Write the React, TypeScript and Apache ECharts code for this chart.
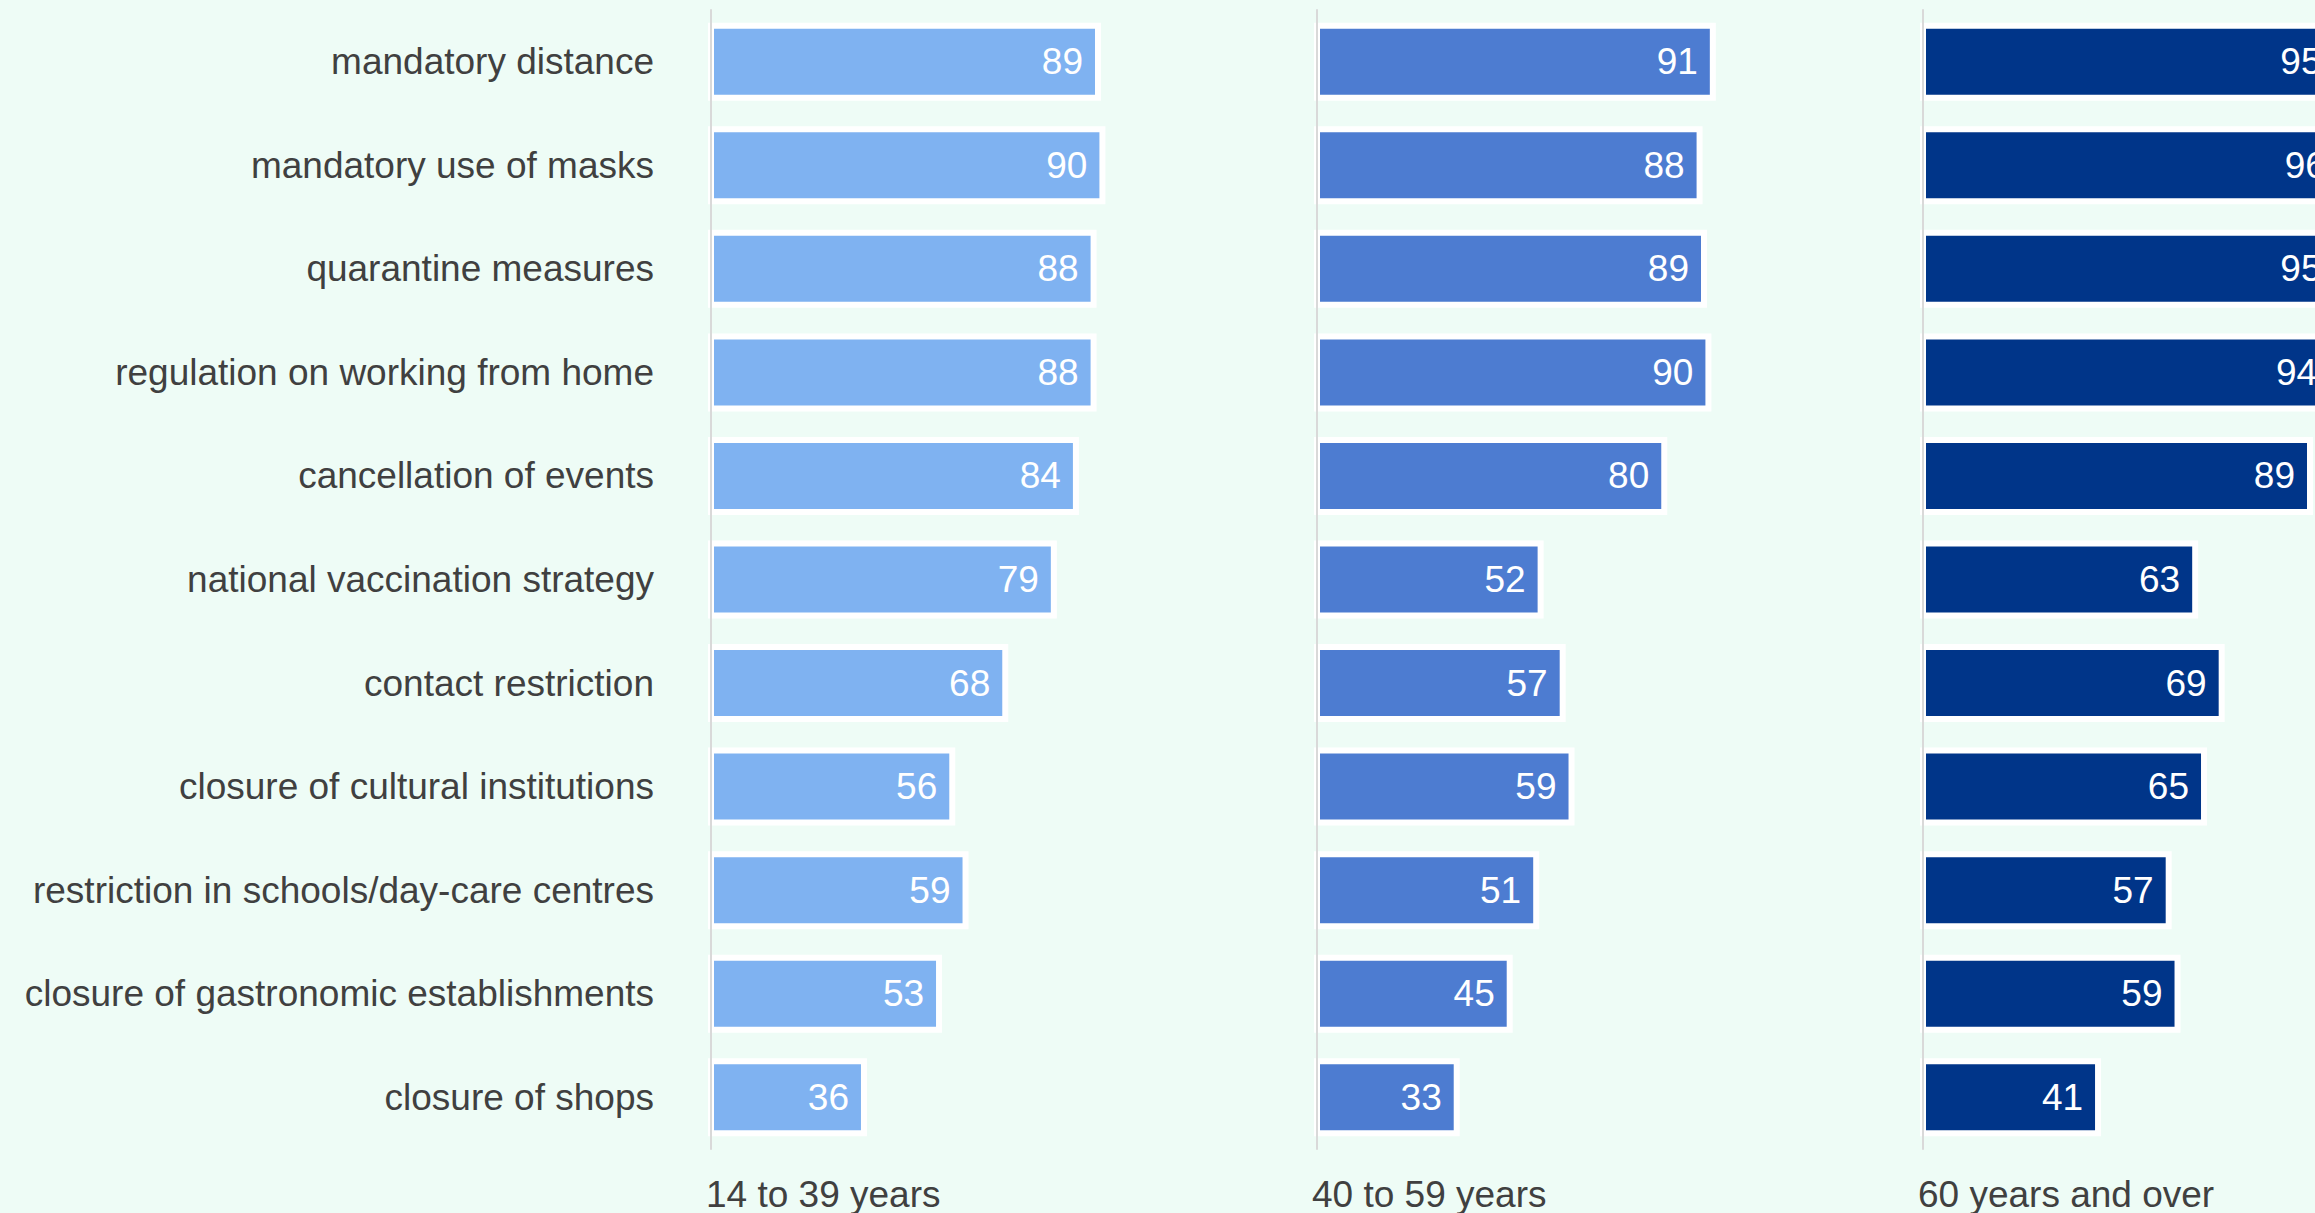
import React, { useEffect, useRef } from "react";
import * as echarts from "echarts";

const CATEGORIES = [
  "mandatory distance",
  "mandatory use of masks",
  "quarantine measures",
  "regulation on working from home",
  "cancellation of events",
  "national vaccination strategy",
  "contact restriction",
  "closure of cultural institutions",
  "restriction in schools/day-care centres",
  "closure of gastronomic establishments",
  "closure of shops",
];

const AGE_GROUPS = ["14 to 39 years", "40 to 59 years", "60 years and over"];

const VALUES_14_39 = [89, 90, 88, 88, 84, 79, 68, 56, 59, 53, 36];
const VALUES_40_59 = [91, 88, 89, 90, 80, 52, 57, 59, 51, 45, 33];
const VALUES_60_PLUS = [95, 96, 95, 94, 89, 63, 69, 65, 57, 59, 41];

const SERIES_VALUES = [VALUES_14_39, VALUES_40_59, VALUES_60_PLUS];
const COLORS = ["#7FB2F1", "#4D7CD1", "#003589"];

const FONT = "'Liberation Sans', Arial, sans-serif";
const TEXT_COLOR = "#404040";
const BG = "#EEFCF6";

const PANEL_LEFT = 708;
const PANEL_STEP = 606;
const PANEL_WIDTH = 393;
const AXIS_MAX = 89;
const GRID_TOP = 10;
const GRID_HEIGHT = 1139;

export default function App() {
  const ref = useRef<HTMLDivElement>(null);

  useEffect(() => {
    if (!ref.current) return;
    const chart = echarts.init(ref.current, undefined, { renderer: "svg" });

    const grids = AGE_GROUPS.map((_, i) => ({
      left: PANEL_LEFT + i * PANEL_STEP,
      top: GRID_TOP,
      width: PANEL_WIDTH,
      height: GRID_HEIGHT,
      containLabel: false,
    }));

    const xAxes = AGE_GROUPS.map((_, i) => ({
      type: "value",
      gridIndex: i,
      min: 0,
      max: AXIS_MAX,
      show: false,
      splitLine: { show: false },
    }));

    const yAxes = AGE_GROUPS.map((_, i) => ({
      type: "category",
      gridIndex: i,
      data: CATEGORIES,
      inverse: true,
      offset: -3,
      z: 5,
      axisLine: { show: true, lineStyle: { color: "#D9D9D9", width: 2 } },
      axisTick: { show: false },
      axisLabel: {
        show: i === 0,
        margin: 57,
        fontSize: 37,
        color: TEXT_COLOR,
        fontFamily: FONT,
      },
    }));

    const series = AGE_GROUPS.map((name, i) => ({
      type: "bar",
      name,
      xAxisIndex: i,
      yAxisIndex: i,
      data: SERIES_VALUES[i],
      barWidth: 78,
      clip: false,
      itemStyle: {
        color: COLORS[i],
        borderColor: "#FFFFFF",
        borderWidth: 6,
      },
      label: {
        show: true,
        position: "insideRight",
        distance: 18,
        color: "#FFFFFF",
        fontSize: 37,
        fontFamily: FONT,
      },
    }));

    const graphics = AGE_GROUPS.map((name, i) => ({
      type: "text",
      x: PANEL_LEFT + 3 + i * PANEL_STEP - 5,
      y: 1194,
      style: {
        text: name,
        fontSize: 37,
        fontFamily: FONT,
        fill: TEXT_COLOR,
        align: "left",
        verticalAlign: "middle",
      },
    }));

    chart.setOption({
      animation: false,
      backgroundColor: BG,
      grid: grids,
      xAxis: xAxes,
      yAxis: yAxes,
      series,
      graphic: graphics,
    });

    return () => chart.dispose();
  }, []);

  return (
    <div
      ref={ref}
      style={{ position: "fixed", left: 0, top: 0, width: 2315, height: 1213 }}
    />
  );
}
